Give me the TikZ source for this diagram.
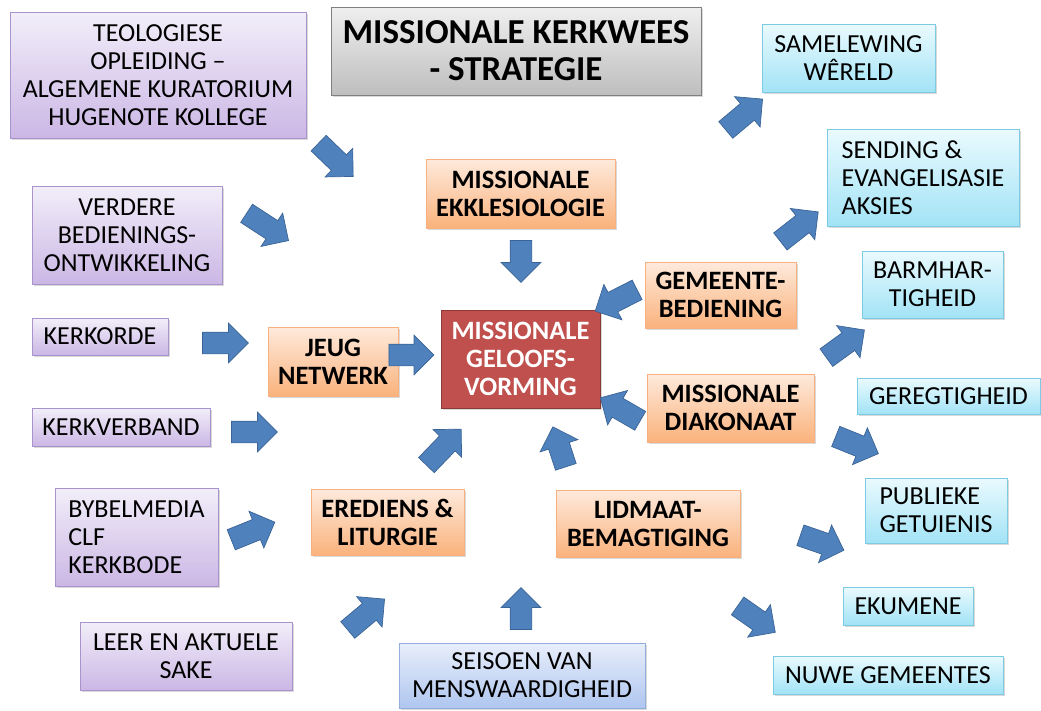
\documentclass[tikz,border=0pt]{standalone}
\usepackage{fontspec}
\setmainfont{Carlito}
\usepackage{tikz}
\usetikzlibrary{shapes.arrows,shadows}

\definecolor{lilatop}{HTML}{F2EEF9}
\definecolor{lilabot}{HTML}{CBB7E5}
\definecolor{lilarand}{HTML}{A993CC}
\definecolor{oranjetop}{HTML}{FEEADC}
\definecolor{oranjebot}{HTML}{FAB27C}
\definecolor{oranjerand}{HTML}{F7B07E}
\definecolor{siaantop}{HTML}{EAFAFE}
\definecolor{siaanbot}{HTML}{A2E3F6}
\definecolor{siaanrand}{HTML}{7CCBE2}
\definecolor{bloutop}{HTML}{E8EEFB}
\definecolor{bloubot}{HTML}{AFC6EF}
\definecolor{blourand}{HTML}{93AEDC}
\definecolor{grystop}{HTML}{EFEFEF}
\definecolor{grysbot}{HTML}{BEBEBE}
\definecolor{rooi}{HTML}{C0504D}
\definecolor{rooirand}{HTML}{8C3836}
\definecolor{pyl}{HTML}{4F81BD}
\definecolor{pylrand}{HTML}{3B6496}

\begin{document}
\begin{tikzpicture}[x=1pt,y=-1pt,
    blok/.style={draw, rectangle, inner sep=0pt, align=center,
      font=\fontsize{26}{28}\selectfont,
      drop shadow={shadow xshift=1.5pt,shadow yshift=-2pt,opacity=0.3}},
    lila/.style={blok, draw=lilarand, top color=lilatop, bottom color=lilabot},
    oranje/.style={blok, draw=oranjerand, top color=oranjetop, bottom color=oranjebot,
      font=\fontsize{26.5}{28}\selectfont\bfseries},
    siaan/.style={blok, draw=siaanrand, top color=siaantop, bottom color=siaanbot},
    blou/.style={blok, draw=blourand, top color=bloutop, bottom color=bloubot},
    pyl/.style={single arrow, draw=pylrand, fill=pyl, line width=0.7pt,
      inner xsep=0pt, inner ysep=10.5pt, font=\tiny, minimum height=46pt,
      single arrow head extend=9pt},
  ]
    \useasboundingbox (0,0) rectangle (1041,710);

    % titel
    \node[blok, draw=gray, top color=grystop, bottom color=grysbot,
      minimum width=370pt, minimum height=88pt,
      font=\fontsize{35}{37}\selectfont\bfseries] (titel) at (516,51)
      {MISSIONALE KERKWEES\\- STRATEGIE};

    % links
    \node[lila, minimum width=296pt, minimum height=126pt] (teol) at (158,75)
      {TEOLOGIESE\\OPLEIDING --\\ALGEMENE KURATORIUM\\HUGENOTE KOLLEGE};
    \node[lila, minimum width=190pt, minimum height=98pt] (verdere) at (127,235)
      {VERDERE\\BEDIENINGS-\\ONTWIKKELING};
    \node[lila, minimum width=136pt, minimum height=37pt] (kerkorde) at (100,336.5)
      {KERKORDE};
    \node[lila, minimum width=178pt, minimum height=38pt] (kerkverband) at (121,427)
      {KERKVERBAND};
    \node[lila, align=left, minimum width=163pt, minimum height=98pt] (bybel) at (136.5,537)
      {BYBELMEDIA\\CLF\\KERKBODE};
    \node[lila, minimum width=212pt, minimum height=68pt] (leer) at (186,656)
      {LEER EN AKTUELE\\SAKE};
    \node[blou, minimum width=246pt, minimum height=65pt] (seisoen) at (522,675.5)
      {SEISOEN VAN\\MENSWAARDIGHEID};

    % middel
    \node[oranje, minimum width=189pt, minimum height=69pt] (ekkl) at (520.5,193.5)
      {MISSIONALE\\EKKLESIOLOGIE};
    \node[oranje, minimum width=130pt, minimum height=69pt] (jeug) at (333,361.5)
      {JEUG\\NETWERK};
    \node[oranje, minimum width=151pt, minimum height=66pt] (gemeente) at (720.5,295)
      {GEMEENTE-\\BEDIENING};
    \node[oranje, minimum width=167pt, minimum height=68pt] (diakonaat) at (730.5,408)
      {MISSIONALE\\DIAKONAAT};
    \node[oranje, minimum width=153pt, minimum height=66pt] (erediens) at (387.5,522)
      {EREDIENS \&\\LITURGIE};
    \node[oranje, minimum width=184pt, minimum height=67pt] (lidmaat) at (648,523.5)
      {LIDMAAT-\\BEMAGTIGING};
    \node[blok, draw=rooirand, fill=rooi, text=white, minimum width=159pt,
      minimum height=98pt, font=\fontsize{26.5}{28}\selectfont\bfseries] (geloof) at (520.5,359)
      {MISSIONALE\\GELOOFS-\\VORMING};

    % regs
    \node[siaan, minimum width=173pt, minimum height=68pt] (samelewing) at (848.5,58)
      {SAMELEWING\\WÊRELD};
    \node[siaan, align=left, minimum width=192pt, minimum height=97pt] (sending) at (923,177.5)
      {SENDING \&\\EVANGELISASIE\\AKSIES};
    \node[siaan, minimum width=141pt, minimum height=67pt] (barmhartig) at (932.5,284.5)
      {BARMHAR-\\TIGHEID};
    \node[siaan, minimum width=183pt, minimum height=36pt] (geregtig) at (948.5,396)
      {GEREGTIGHEID};
    \node[siaan, align=left, minimum width=142pt, minimum height=65pt] (publiek) at (936,510.5)
      {PUBLIEKE\\GETUIENIS};
    \node[siaan, minimum width=130pt, minimum height=38pt] (ekumene) at (908,606)
      {EKUMENE};
    \node[siaan, minimum width=230pt, minimum height=38pt] (nuwe) at (888,675)
      {NUWE GEMEENTES};

    % pyle
    \node[pyl, rotate=-44, minimum height=48pt] (p1) at (332,156) {};
    \node[pyl, rotate=-33, minimum height=50pt] (p2) at (263,224) {};
    \node[pyl] (p3) at (220,343) {};
    \node[pyl] (p4) at (249,432) {};
    \node[pyl, rotate=22, minimum height=47pt] (p5) at (248,533) {};
    \node[pyl, rotate=40, minimum height=48pt] (p6) at (362,618) {};
    \node[pyl, rotate=90, minimum height=42pt] (p7) at (521,614) {};
    \node[pyl, rotate=-90, minimum height=42pt] (p8) at (521,256) {};
    \node[pyl, minimum height=45pt] (p9) at (406,355) {};
    \node[pyl, rotate=46, minimum height=50pt] (p10) at (440,451) {};
    \node[pyl, rotate=108, minimum height=42pt] (p11) at (561,452) {};
    \node[pyl, rotate=-153, minimum height=47pt] (p12) at (621,298) {};
    \node[pyl, rotate=150] (p13) at (625,412) {};
    \node[pyl, rotate=40, minimum height=48pt] (p14) at (740,118) {};
    \node[pyl, rotate=38, minimum height=48pt] (p15) at (795,230) {};
    \node[pyl, rotate=36, minimum height=47pt] (p16) at (841,347) {};
    \node[pyl, rotate=-22] (p17) at (852,443) {};
    \node[pyl, rotate=-19] (p18) at (817,541) {};
    \node[pyl, rotate=-35] (p19) at (752,616) {};
  \end{tikzpicture}
\end{document}
